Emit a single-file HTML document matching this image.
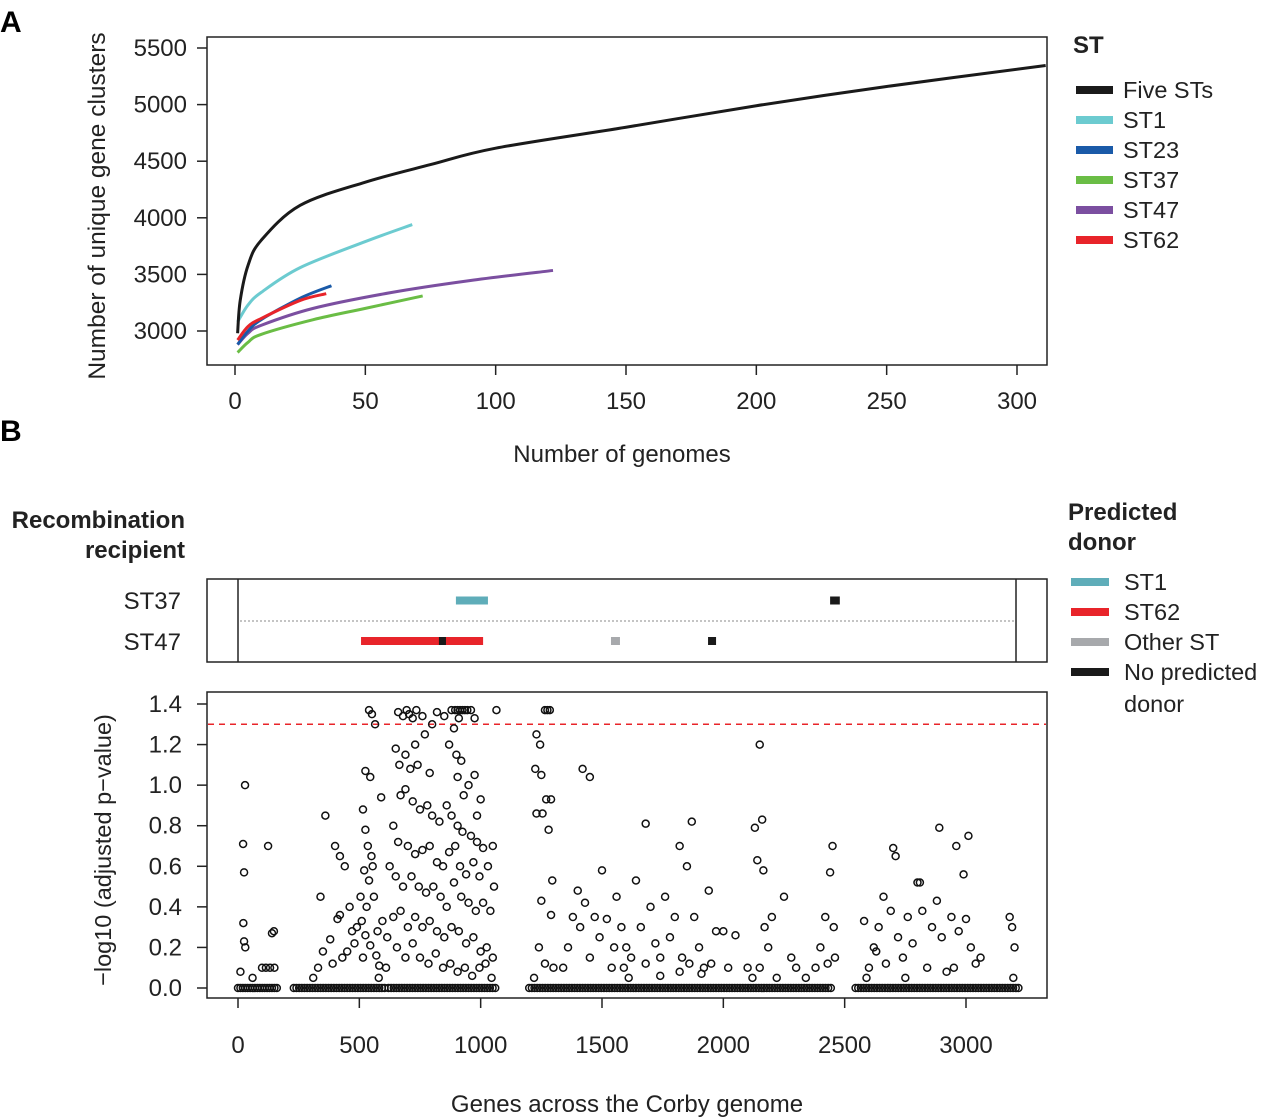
<!DOCTYPE html>
<html><head><meta charset="utf-8"><style>
html,body{margin:0;padding:0;background:#fff;}
svg{display:block;font-family:"Liberation Sans",Arial,sans-serif;}
</style></head><body>
<svg id="fig" width="1280" height="1119" viewBox="0 0 1280 1119" xmlns="http://www.w3.org/2000/svg">
<text x="0" y="32" font-size="30" font-weight="bold">A</text>
<text x="0" y="441" font-size="30" font-weight="bold">B</text>
<g id="pa"></g>
<g id="pb"></g>
<g id="pc"></g>
<text x="105" y="206" font-size="24.5" text-anchor="middle" transform="rotate(-90 105 206)" fill="#222">Number of unique gene clusters</text>
<text x="622" y="462" font-size="24" text-anchor="middle" fill="#222">Number of genomes</text>
<text x="111" y="850" font-size="23.5" text-anchor="middle" transform="rotate(-90 111 850)" fill="#222">−log10 (adjusted p−value)</text>
<text x="627" y="1112" font-size="24" text-anchor="middle" fill="#222">Genes across the Corby genome</text>
<text x="185" y="528" font-size="24" font-weight="bold" text-anchor="end" fill="#222">Recombination</text>
<text x="185" y="558" font-size="24" font-weight="bold" text-anchor="end" fill="#222">recipient</text>
<text x="181" y="609" font-size="24" text-anchor="end" fill="#222">ST37</text>
<text x="181" y="650" font-size="24" text-anchor="end" fill="#222">ST47</text>
<g id="lega"><text x="1073" y="53" font-size="24" font-weight="bold" fill="#222">ST</text></g>
<g id="legb">
<text x="1068" y="520" font-size="24" font-weight="bold" fill="#222">Predicted</text>
<text x="1068" y="550" font-size="24" font-weight="bold" fill="#222">donor</text>
</g>
</svg>
<script>
// ---- Panel A data ----
const curveNames=["Five STs","ST1","ST23","ST37","ST47","ST62"];
const curveColors=["#1a1a1a","#6ccbd0","#1a5aa8","#6abd45","#7b4fa0","#e8242a"];
const fiveX=[1,2,5,10,25,50,75,100,150,200,250,311];
const fiveY=[2980,3270,3580,3800,4110,4315,4470,4615,4800,4990,5160,5345];
const st1X=[1,5,10,25,50,68];
const st1Y=[3080,3230,3340,3560,3790,3940];
const st23X=[1,5,10,25,37];
const st23Y=[2880,3000,3100,3290,3400];
const st37X=[1,5,10,30,50,72];
const st37Y=[2810,2900,2970,3100,3200,3310];
const st47X=[1,5,10,30,60,90,122];
const st47Y=[2880,2980,3050,3200,3340,3445,3535];
const st62X=[1,5,10,25,35];
const st62Y=[2920,3040,3110,3270,3330];
const aXTicks=[0,50,100,150,200,250,300];
const aYTicks=[3000,3500,4000,4500,5000,5500];
// ---- Panel B track data ----
const trackRows=["ST37","ST47"];
const segRow=[0,0,1,1,1,1];
const segStart=[898,2440,507,828,1537,1937];
const segEnd=[1030,2480,1010,857,1574,1970];
const segType=["ST1","none","ST62","none","other","none"];
const donorNames=["ST1","ST62","Other ST","No predicted"];
const donorColors={"ST1":"#5fadb9","ST62":"#e8242a","other":"#a7a9ac","none":"#1a1a1a"};
// ---- Scatter data ----
const bXTicks=[0,500,1000,1500,2000,2500,3000];
const bYTicks=[0,0.2,0.4,0.6,0.8,1.0,1.2,1.4];
const threshold=1.3;
const zeroRuns=[[0,160,10],[230,610,11],[620,1060,11],[1200,2450,11],[2545,3225,11]];
const ptsGene=[29,21,25,22,25,30,124,140,148,99,115,132,150,60,10,
340,360,400,420,440,420,410,380,350,450,470,480,330,310,390,430,460,490,
540,552,565,525,545,515,525,535,550,520,540,560,530,510,525,545,570,582,590,595,580,505,515,555,575,
660,680,695,705,720,735,760,820,850,880,895,905,915,925,935,945,960,975,910,1065,
650,665,690,710,740,790,870,900,920,950,905,930,1000,690,670,720,750,780,800,830,860,880,905,925,960,985,1010,640,660,700,730,760,790,820,845,870,895,915,940,970,995,1030,650,680,715,745,775,805,835,860,890,920,950,980,1010,1040,640,670,700,730,760,790,820,850,880,910,940,970,1000,1025,1050,655,690,720,750,785,815,845,875,905,935,965,995,1020,1045,625,615,610,975,985,770,730,800,890,1050,1055,
1265,1275,1285,1230,1245,1225,1250,1270,1290,1230,1255,1280,1295,1290,1250,1240,1265,1300,1220,
1420,1450,1680,1870,2160,2150,2140,2165,2130,2450,2440,
1340,1360,1380,1400,1410,1430,1450,1470,1490,1500,1520,1540,1560,1580,1600,1620,1640,1660,1680,1700,1720,1740,1760,1780,1800,1820,1830,1850,1860,1880,1900,1920,1940,1950,1970,2000,2020,2050,2100,2120,2170,2185,2200,2220,2250,2280,2300,2340,2380,2400,2420,2430,2455,2460,1550,1590,1610,1740,1820,1910,2150,
2580,2600,2620,2640,2660,2670,2690,2700,2710,2720,2740,2760,2780,2800,2810,2820,2840,2860,2880,2890,2900,2920,2940,2960,2970,2990,3000,3010,3020,3040,3060,3180,3190,3200,3195,2590,2750,2950,2630];
const ptsVal=[1.0,0.71,0.57,0.32,0.23,0.2,0.7,0.27,0.28,0.1,0.1,0.1,0.1,0.05,0.08,
0.45,0.85,0.7,0.65,0.6,0.36,0.34,0.24,0.18,0.18,0.28,0.22,0.1,0.05,0.12,0.15,0.4,0.3,
1.37,1.35,1.3,1.07,1.04,0.88,0.78,0.7,0.65,0.58,0.53,0.45,0.4,0.33,0.26,0.21,0.16,0.11,0.94,0.33,0.05,0.45,0.15,0.6,0.28,
1.36,1.34,1.37,1.35,1.33,1.37,1.34,1.36,1.34,1.37,1.37,1.37,1.37,1.37,1.37,1.37,1.37,1.33,1.33,1.37,
1.18,1.1,1.15,1.08,1.1,1.06,1.2,1.15,1.12,1.0,1.04,0.95,0.93,0.98,0.95,0.92,0.88,0.9,0.85,0.82,0.9,0.85,0.8,0.77,0.75,0.72,0.69,0.8,0.72,0.7,0.66,0.68,0.7,0.62,0.6,0.67,0.7,0.6,0.56,0.62,0.55,0.6,0.55,0.5,0.55,0.5,0.47,0.5,0.45,0.4,0.52,0.45,0.42,0.38,0.42,0.38,0.35,0.38,0.3,0.35,0.3,0.33,0.28,0.25,0.3,0.28,0.22,0.25,0.18,0.2,0.15,0.2,0.15,0.22,0.15,0.12,0.17,0.1,0.12,0.08,0.1,0.06,0.1,0.12,0.05,0.6,0.25,0.1,1.05,0.85,1.25,1.2,1.3,1.28,0.7,0.5,
1.37,1.37,1.37,1.25,1.2,1.08,1.05,0.93,0.93,0.86,0.86,0.78,0.53,0.36,0.43,0.2,0.12,0.1,0.05,
1.08,1.04,0.81,0.82,0.83,1.2,0.63,0.58,0.79,0.7,0.57,
0.1,0.2,0.35,0.48,0.3,0.42,0.15,0.35,0.25,0.58,0.34,0.1,0.45,0.3,0.2,0.15,0.53,0.3,0.12,0.4,0.22,0.06,0.45,0.25,0.35,0.7,0.15,0.6,0.12,0.35,0.2,0.1,0.48,0.12,0.28,0.28,0.1,0.26,0.1,0.05,0.3,0.2,0.35,0.05,0.45,0.15,0.1,0.05,0.1,0.2,0.35,0.12,0.3,0.15,0.2,0.1,0.05,0.15,0.08,0.07,0.1,
0.33,0.1,0.2,0.3,0.45,0.12,0.38,0.69,0.65,0.25,0.15,0.35,0.22,0.52,0.52,0.38,0.1,0.3,0.43,0.79,0.25,0.08,0.35,0.7,0.28,0.56,0.34,0.75,0.2,0.12,0.15,0.35,0.3,0.2,0.05,0.05,0.05,0.1,0.18];

const NS="http://www.w3.org/2000/svg";
function mk(parent,tag,attrs,text){const e=document.createElementNS(NS,tag);for(const k in attrs)e.setAttribute(k,attrs[k]);if(text!==undefined)e.textContent=text;parent.appendChild(e);return e;}

// Panel A
const pa=document.getElementById('pa');
const ax=v=>235+(v)*(1017-235)/300;
const ay=v=>331-(v-3000)*(331-48)/2500;
let r=mk(pa,'rect',{x:207,y:37,width:840,height:328,fill:'none',stroke:'#222','stroke-width':1.5});


aYTicks.forEach(v=>{
  let l=mk(pa,'line',{x1:197,x2:207,y1:ay(v),y2:ay(v),stroke:'#222','stroke-width':1.5});
  
  
  let t=mk(pa,'text',{x:187,y:ay(v)+8,'font-size':24,'text-anchor':'end',fill:'#222'},String(v));
  
  
});
aXTicks.forEach(v=>{
  let l=mk(pa,'line',{x1:ax(v),x2:ax(v),y1:365,y2:375,stroke:'#222','stroke-width':1.5});
  
  
  let t=mk(pa,'text',{x:ax(v),y:409,'font-size':24,'text-anchor':'middle',fill:'#222'},String(v));
  
  
});
const series=[[fiveX,fiveY],[st1X,st1Y],[st23X,st23Y],[st37X,st37Y],[st47X,st47Y],[st62X,st62Y]];
const clipId='clipA';
const cp=mk(pa,'clipPath',{id:clipId});mk(cp,'rect',{x:207,y:37,width:840,height:328});
[1,3,4,2,5,0].forEach(i=>{
  const [xs,ys]=series[i];
  const P=xs.map((x,k)=>[ax(x),ay(ys[k])]);
  let d='M'+P[0][0]+','+P[0][1];
  for(let k=0;k<P.length-1;k++){
    const p0=P[k-1]||P[k],p1=P[k],p2=P[k+1],p3=P[k+2]||P[k+1];
    const c1=[p1[0]+(p2[0]-p0[0])/6,p1[1]+(p2[1]-p0[1])/6];
    const c2=[p2[0]-(p3[0]-p1[0])/6,p2[1]-(p3[1]-p1[1])/6];
    d+=` C${c1[0]},${c1[1]} ${c2[0]},${c2[1]} ${p2[0]},${p2[1]}`;
  }
  let p=mk(pa,'path',{d:d,fill:'none',stroke:curveColors[i],'stroke-width':3,'clip-path':'url(#'+clipId+')'});
  
  
});
const lega=document.getElementById('lega');
curveNames.forEach((n,i)=>{
  const y=90+i*30;
  let s=mk(lega,'rect',{x:1076,y:y-4,width:37,height:8,fill:curveColors[i]});
  
  
  let t=mk(lega,'text',{x:1123,y:y+8,'font-size':23.5,fill:'#222'},n);
  
  
});

// Panel B track
const pb=document.getElementById('pb');
const gx=g=>238+g*(966-238)/3000;
r=mk(pb,'rect',{x:207,y:579,width:840,height:83,fill:'none',stroke:'#222','stroke-width':1.5});


[238,1016].forEach(x=>{let l=mk(pb,'line',{x1:x,x2:x,y1:579,y2:662,stroke:'#222','stroke-width':1.5});

});
let dl=mk(pb,'line',{x1:240,x2:1014,y1:621,y2:621,stroke:'#888','stroke-width':1,'stroke-dasharray':'2,2'});


const rowY=[600.5,641];
segStart.forEach((s,i)=>{
  let e=mk(pb,'rect',{x:gx(s),y:rowY[segRow[i]]-4,width:gx(segEnd[i])-gx(s),height:8,fill:donorColors[segType[i]]});
  
  
});
const legb=document.getElementById('legb');
["ST1","ST62","other","none"].forEach((k,i)=>{
  const y=582+i*30;
  let s=mk(legb,'rect',{x:1071,y:y-4,width:38,height:8,fill:donorColors[k]});
  
  
  let t=mk(legb,'text',{x:1124,y:y+8,'font-size':23.5,fill:'#222'},donorNames[i]);
  
  
});
let t2=mk(legb,'text',{x:1124,y:712,'font-size':23.5,fill:'#222'},'donor');



// Scatter
const pc=document.getElementById('pc');
const sy=v=>988-v*(988-704)/1.4;
r=mk(pc,'rect',{x:207,y:692,width:840,height:306,fill:'none',stroke:'#222','stroke-width':1.5});


bYTicks.forEach(v=>{
  let l=mk(pc,'line',{x1:197,x2:207,y1:sy(v),y2:sy(v),stroke:'#222','stroke-width':1.5});
  
  
  let t=mk(pc,'text',{x:182,y:sy(v)+8,'font-size':24,'text-anchor':'end',fill:'#222'},v.toFixed(1));
  
  
});
bXTicks.forEach(v=>{
  let l=mk(pc,'line',{x1:gx(v),x2:gx(v),y1:998,y2:1008,stroke:'#222','stroke-width':1.5});
  
  
  let t=mk(pc,'text',{x:gx(v),y:1053,'font-size':24,'text-anchor':'middle',fill:'#222'},String(v));
  
  
});
let th=mk(pc,'line',{x1:208,x2:1046,y1:sy(threshold),y2:sy(threshold),stroke:'#e8242a','stroke-width':1.5,'stroke-dasharray':'6,5'});


const pg=mk(pc,'g',{fill:'none',stroke:'#111','stroke-width':1.5});


zeroRuns.forEach(([a,b,st])=>{
  for(let g=a;g<=b;g+=st){
    let c=mk(pg,'circle',{cx:gx(g),cy:sy(0),r:3.5});
    
    
  }
});
ptsGene.forEach((g,i)=>{
  let c=mk(pg,'circle',{cx:gx(g),cy:sy(ptsVal[i]),r:3.5});
  
  
});
</script>
</body></html>
